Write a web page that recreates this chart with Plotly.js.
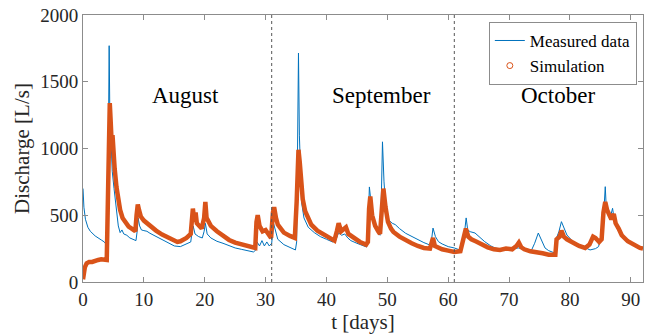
<!DOCTYPE html>
<html>
<head>
<meta charset="utf-8">
<script src="https://cdn.plot.ly/plotly-3.0.1.min.js"></script>
<style>
html,body{margin:0;padding:0;background:#fff;}
#chart{width:648px;height:336px;}
</style>
</head>
<body>
<div id="chart"></div>
<script>
// Measured data (time in days, discharge in L/s)
const measuredT = [0,0.15,0.4,0.8,1.2,2,3,3.5,3.9,4.05,4.15,4.25,4.3,4.4,4.5,4.6,4.8,5.1,5.5,5.8,6.1,6.4,6.7,7.2,7.7,8.3,8.7,8.9,9.05,9.3,9.6,10,10.5,11,12,13,14,15,16,17,17.7,17.9,18.1,18.4,19,19.6,19.9,20.1,20.4,21,22,23,24,25,26,27,28,28.4,28.6,29,29.4,29.8,30.2,30.6,31,31.3,31.6,32,33,34,34.9,35.1,35.3,35.4,35.55,35.7,35.9,36.3,37,38,39,40,41,41.5,42,42.5,43,43.5,44,45,46,46.6,46.9,47.05,47.4,47.8,48.2,48.8,49.0,49.2,49.45,49.7,50.2,50.8,51.3,52,53,54,55,56,57,57.3,57.5,57.9,58.4,59,60,61,61.9,62.3,62.7,62.95,63.2,63.6,64.4,65,66,67,67.7,69.3,71.5,73.7,74.2,74.8,75.3,75.9,76.5,77.5,77.8,78.2,78.6,79,79.5,80.5,81.6,83.3,84.2,84.7,85.2,85.6,85.8,86.0,86.6,87.0,87.3,87.7,88.5,89.3,90.5,91.5,92];
const measuredQ = [700,560,470,410,380,345,315,300,275,300,900,1640,1770,1300,1150,950,830,700,520,420,370,390,360,350,330,320,310,380,480,420,390,385,380,365,340,315,290,270,265,285,300,370,420,360,340,330,380,440,360,330,305,290,270,255,245,235,225,240,300,270,310,270,300,270,290,440,380,320,280,260,240,300,1200,1715,1100,850,600,480,410,370,340,320,300,310,370,350,360,330,310,290,270,262,500,712,560,450,390,350,600,1050,750,590,465,440,430,400,365,340,315,295,277,330,404,340,302,285,265,255,240,280,380,480,390,377,367,340,302,270,255,240,255,240,290,367,320,255,235,217,330,380,452,400,352,302,277,240,250,265,367,550,714,527,480,552,460,404,340,302,280,265,255];

// Simulation (time in days, discharge in L/s)
const simT = [0,0.1,0.3,0.6,1,1.5,2,2.5,3,3.5,3.9,4.0,4.1,4.25,4.4,4.55,4.7,4.85,5.0,5.2,5.5,5.8,6.1,6.5,7,7.5,8,8.6,8.8,9.0,9.2,9.5,10,10.5,11,12,13,14,15,15.5,16,17,17.7,17.9,18.05,18.3,18.5,18.7,19,19.5,19.9,20.1,20.3,20.6,21,22,23,24,25,26,27,28,28.3,28.5,28.7,29,29.5,30,30.5,30.9,31.2,31.4,31.7,32,32.5,33,34,34.8,35.1,35.3,35.4,35.6,35.8,36.1,36.5,37,37.5,38.5,39.5,40.5,41.3,41.7,42,42.4,42.8,43.2,43.6,44.5,45.5,46.5,46.8,47.0,47.2,47.5,48,48.5,48.8,49.1,49.35,49.7,50.1,50.6,51,52,53,54,55,56,57,57.3,57.5,57.8,58.5,59,60,61,62,62.4,62.9,63.3,63.8,64.5,65.5,66.5,67.5,68.5,69.5,70.5,71.2,71.6,72,72.5,73.5,74.5,75.5,76.5,77.6,77.8,78.3,78.6,79,79.5,80.5,81.5,82.5,83.2,83.8,84.2,84.8,85.2,85.5,85.8,86.1,86.5,86.8,87.2,87.5,88,88.5,89.5,90.5,91.5,92];
const simQ = [20,60,110,140,150,150,160,165,170,170,165,400,800,1100,1340,1200,1050,1100,960,850,710,620,540,480,440,415,400,380,500,580,540,490,460,440,415,385,355,330,305,300,305,330,360,500,550,450,520,440,420,400,480,600,480,460,420,380,345,315,295,285,270,260,255,450,500,420,380,390,350,330,520,560,480,430,400,370,345,330,600,900,990,900,780,620,530,470,430,385,355,325,310,380,440,380,400,410,360,330,300,280,300,550,640,500,420,380,360,550,700,560,450,400,375,340,310,290,270,255,250,300,330,270,250,245,235,225,230,300,400,340,320,305,280,260,245,240,250,245,270,295,260,245,230,225,215,205,205,320,340,385,340,320,290,270,255,280,340,330,300,320,520,600,540,500,470,510,440,400,350,305,275,255,250];

// Month boundaries and labels
const monthBoundaries = [31, 61];
const monthNames = ["August", "September", "October"];
const monthLabelX = [16.9, 49.1, 78.0];
const monthLabelY = 1400;

const xTicks = [0,10,20,30,40,50,60,70,80,90];
const yTicks = [0,500,1000,1500,2000];

const blue = '#0072BD';
const orange = '#D95319';
const serif = "'Liberation Serif', serif";

const traces = [
  {x: measuredT, y: measuredQ, mode: 'lines', name: 'Measured data',
   line: {color: blue, width: 1}},
  {x: simT, y: simQ, mode: 'lines', name: 'Simulation', showlegend: false,
   line: {color: orange, width: 4.5}},
  {x: [null], y: [null], mode: 'markers', name: 'Simulation',
   marker: {symbol: 'circle-open', size: 6, color: orange, line: {width: 1, color: orange}}}
];

const shapes = monthBoundaries.map(b => ({
  type: 'line', xref: 'x', yref: 'y', x0: b, x1: b, y0: yTicks[0], y1: yTicks[yTicks.length-1],
  line: {color: '#555', width: 1, dash: 'dot'}
}));

const annotations = monthNames.map((n, i) => ({
  x: monthLabelX[i], y: monthLabelY, xref: 'x', yref: 'y', text: n, showarrow: false,
  font: {family: serif, size: 23, color: '#000'}
}));

const axisCommon = {
  showline: true, linecolor: '#8c8c8c', linewidth: 1, mirror: 'ticks',
  ticks: 'inside', ticklen: 5, tickcolor: '#8c8c8c', tickwidth: 1,
  showgrid: false, zeroline: false,
  tickfont: {family: serif, size: 19, color: '#262626'}
};

const layout = {
  width: 648, height: 336,
  margin: {l: 83, r: 5, t: 15, b: 54},
  paper_bgcolor: '#fff', plot_bgcolor: '#fff',
  showlegend: true,
  legend: {x: 0.989, y: 0.974, xanchor: 'right', yanchor: 'top',
    bgcolor: '#fff', bordercolor: '#8c8c8c', borderwidth: 1,
    font: {family: serif, size: 17, color: '#000'}, tracegroupgap: 0,
    itemwidth: 30},
  xaxis: Object.assign({}, axisCommon, {range: [0, 92], tickvals: xTicks,
    title: {text: 't [days]', font: {family: serif, size: 21, color: '#262626'}, standoff: 4}}),
  yaxis: Object.assign({}, axisCommon, {range: [0, 2000], tickvals: yTicks,
    title: {text: 'Discharge [L/s]', font: {family: serif, size: 21, color: '#262626'}, standoff: 4}}),
  shapes: shapes,
  annotations: annotations
};

Plotly.newPlot('chart', traces, layout, {displayModeBar: false, staticPlot: true});
</script>
</body>
</html>
